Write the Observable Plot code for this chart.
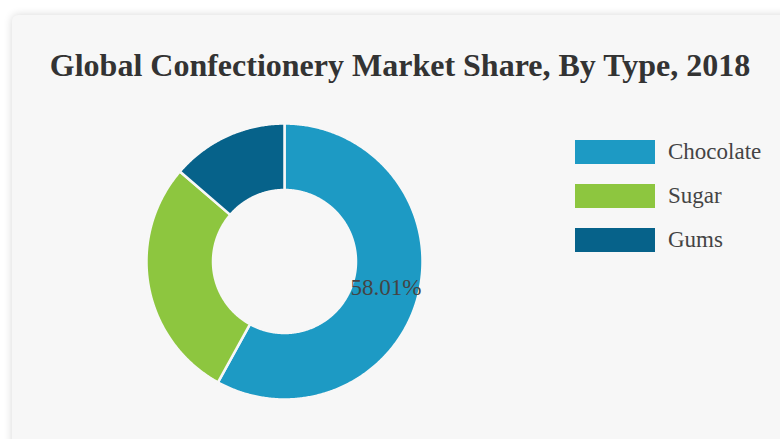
<!DOCTYPE html>
<html><head><meta charset="utf-8">
<script src="https://cdn.jsdelivr.net/npm/d3@7"></script>
<script src="https://cdn.jsdelivr.net/npm/@observablehq/plot@0.6"></script>
<style>
body{margin:0;background:#fff;width:780px;height:439px;overflow:hidden;position:relative;font-family:"Liberation Serif","Times New Roman",serif;}
#card{position:absolute;left:12px;top:15px;width:820px;height:480px;background:#f7f7f7;border-radius:6px;box-shadow:0 0 9px rgba(0,0,0,0.16);}
#title{position:absolute;left:0;width:800px;top:48px;line-height:34px;text-align:center;font-size:32px;font-weight:bold;color:#333;white-space:nowrap;}
#chart{position:absolute;left:134px;top:111px;}
.lg{position:absolute;left:575px;height:24px;}
.lg .sw{position:absolute;left:0;top:0;width:80px;height:24px;}
.lg .tx{position:absolute;left:93px;top:0;line-height:24px;font-size:23px;color:#444;white-space:nowrap;}
</style></head>
<body>
<div id="card"></div>
<div id="title">Global Confectionery Market Share, By Type, 2018</div>
<div id="chart"></div>
<div id="legend"></div>
<script>
const categories = ["Chocolate", "Sugar", "Gums"];
const shares = [58.01, 28.3, 13.69];
const colors = ["#1d9ac4", "#8dc63f", "#06628a"];
const labelText = ["58.01%", "", ""];

const R = 138, r0 = 71.5;
const total = d3.sum(shares);
let acc = 0;
const slices = categories.map((c, i) => {
  const a0 = acc / total * 2 * Math.PI;
  acc += shares[i];
  const a1 = acc / total * 2 * Math.PI;
  return {type: c, a0, a1, i};
});
const pts = [];
for (const s of slices) {
  const n = Math.max(2, Math.ceil((s.a1 - s.a0) / (Math.PI / 360)));
  const ring = [];
  for (let k = 0; k <= n; k++) { const a = s.a0 + (s.a1 - s.a0) * k / n; ring.push([R * Math.sin(a), R * Math.cos(a)]); }
  for (let k = n; k >= 0; k--) { const a = s.a0 + (s.a1 - s.a0) * k / n; ring.push([r0 * Math.sin(a), r0 * Math.cos(a)]); }
  ring.push(ring[0]);
  for (const [x, y] of ring) pts.push({type: s.type, x, y});
}
const labels = slices.filter(s => labelText[s.i]).map(s => {
  const m = (s.a0 + s.a1) / 2, rr = (R + r0) / 2;
  return {x: rr * Math.sin(m), y: rr * Math.cos(m), t: labelText[s.i]};
});

const plot = Plot.plot({
  width: 300, height: 300, margin: 0,
  x: {domain: [-150, 150], axis: null},
  y: {domain: [-150, 150], axis: null},
  color: {domain: categories, range: colors},
  style: {background: "transparent", fontFamily: "'Liberation Serif', serif", overflow: "visible"},
  marks: [
    Plot.line(pts, {x: "x", y: "y", z: "type", fill: "type", stroke: "#f7f7f7", strokeWidth: 2.5, curve: "linear"}),
    Plot.text(labels, {x: "x", y: "y", text: "t", fill: "#444", fontSize: 23})
  ]
});
document.getElementById("chart").appendChild(plot);

const lg = document.getElementById("legend");
categories.forEach((c, i) => {
  const d = document.createElement("div");
  d.className = "lg";
  d.style.top = (140 + i * 44) + "px";
  d.innerHTML = `<div class="sw" style="background:${colors[i]}"></div><div class="tx">${c}</div>`;
  lg.appendChild(d);
});
</script>
</body></html>
